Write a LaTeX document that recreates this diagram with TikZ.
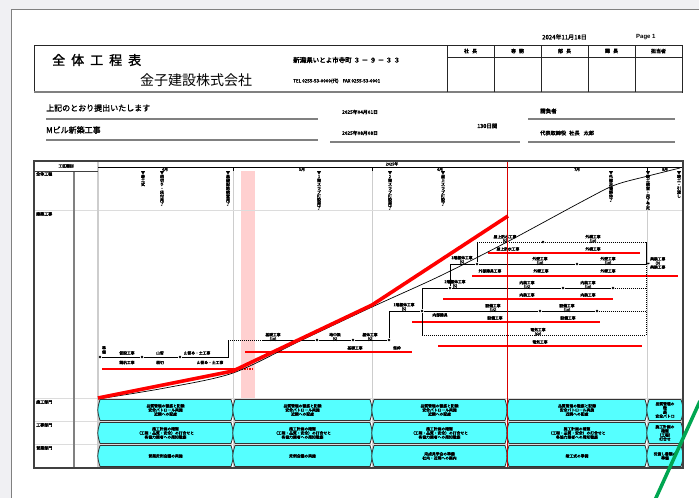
\documentclass[tikz,border=0pt]{standalone}
\usepackage{fontspec}
\setmainfont{Liberation Sans}
\newfontfamily\jp{Noto Sans CJK JP}
\newfontfamily\jpb[FakeBold=1.5]{Noto Sans CJK JP}
\newfontfamily\jpx[FakeBold=3]{Noto Sans CJK JP}
\usetikzlibrary{arrows.meta}
\definecolor{pagebg}{RGB}{240,240,243}
\definecolor{frame}{RGB}{128,128,128}
\definecolor{gridc}{RGB}{205,205,205}
\definecolor{boxcyan}{RGB}{85,255,255}
\definecolor{pinkband}{RGB}{255,208,208}
\definecolor{gr}{RGB}{0,166,81}
\newcommand\cybox[4]{%
  \path[cbox] (#1,#3) -- (#2,#3) .. controls (#2+3,{(#3+#4)/2}) .. (#2,#4) -- (#1,#4) .. controls (#1-3,{(#3+#4)/2}) .. (#1,#3) -- cycle;}
\begin{document}
\begin{tikzpicture}[x=1pt,y=-1pt,
  tt/.style={font=\jpx\fontsize{3.8}{4.1}\selectfont, inner sep=0pt, align=center},
  ms/.style={font=\jpx\fontsize{4}{3.9}\selectfont, inner sep=0pt, align=center, anchor=north},
  bt/.style={font=\jpx\fontsize{3.8}{4.1}\selectfont, inner sep=0pt, align=center},
  rl/.style={font=\jpx\fontsize{4}{4.2}\selectfont, inner sep=0pt, anchor=west},
  hd/.style={font=\jpx\fontsize{5}{6}\selectfont, inner sep=0pt},
  ev/.style={circle, fill=black, inner sep=0pt, minimum size=2.8pt},
  act/.style={draw=black, line width=0.75pt},
  dum/.style={draw=black, line width=0.65pt, dash pattern=on 1pt off 1pt},
  rbar/.style={draw=red, line width=2.6pt},
  cbox/.style={fill=boxcyan, draw=black!80, line width=0.8pt}]
\useasboundingbox (0,0) rectangle (699,498);
% page
\fill[pagebg] (0,0) rectangle (699,498);
\filldraw[fill=white, draw=frame, line width=1pt] (11,9) rectangle (720,520);
% ===== header =====
\node[font=\jpb\fontsize{6}{7}\selectfont, anchor=west, inner sep=0] (date) at (542,37) {2024年11月18日};
\node[font=\bfseries\fontsize{6}{7}\selectfont, anchor=west, inner sep=0] (page) at (636,37) {Page 1};
\draw[black!85, line width=0.9pt] (34,45) rectangle (682,92);
\draw[frame, line width=1.6pt] (34,92) -- (682,92);
\draw[black!85, line width=0.9pt] (447,45) -- (447,92);
\foreach \xx in {494,541,588,635} \draw[black!85, line width=0.9pt] (\xx,45) -- (\xx,92);
\draw[black!85, line width=0.9pt] (447,57) -- (682,57);
\node[hd] (h1) at (470.5,51) {社\hspace{3pt}長};
\node[hd] (h2) at (517.5,51) {専\hspace{3pt}務};
\node[hd] (h3) at (564.5,51) {部\hspace{3pt}長};
\node[hd] (h4) at (611.5,51) {課\hspace{3pt}長};
\node[hd] (h5) at (658.5,51) {担当者};
\node[font=\jpb\fontsize{13}{14}\selectfont, anchor=west, inner sep=0] (title) at (52,60) {全\hspace{6pt}体\hspace{6pt}工\hspace{6pt}程\hspace{6pt}表};
\node[font=\jp\fontsize{14}{15}\selectfont, anchor=west, inner sep=0] (comp) at (140,80) {金子建設株式会社};
\node[font=\jpx\fontsize{6.5}{7}\selectfont, anchor=west, inner sep=0] (addr) at (293,60) {新潟県いとよ市寺町\hspace{2pt}３\hspace{1.5pt}－\hspace{1.5pt}９\hspace{1.5pt}－\hspace{1.5pt}３\hspace{1.5pt}３};
\node[font=\jpx\fontsize{4.6}{5}\selectfont, anchor=west, inner sep=0] (tel) at (293,81) {TEL 0255-53-0000(代)\hspace{4pt}FAX 0255-53-0001};
% ===== second section =====
\node[font=\jpb\fontsize{8}{9}\selectfont, anchor=west, inner sep=0] (s1) at (46,108) {上記のとおり提出いたします};
\node[font=\jpb\fontsize{8}{9}\selectfont, anchor=west, inner sep=0] (s2) at (46,130) {Mビル新築工事};
\node[font=\jpx\fontsize{4.8}{5}\selectfont, anchor=west, inner sep=0] (d1) at (342,112) {2025年04月01日};
\node[font=\jpx\fontsize{4.8}{5}\selectfont, anchor=west, inner sep=0] (d2) at (342,133) {2025年08月08日};
\node[font=\jpx\fontsize{5.5}{6}\selectfont, anchor=west, inner sep=0] (days) at (477,126) {130日間};
\node[font=\jpx\fontsize{5.5}{6}\selectfont, anchor=west, inner sep=0] (uk) at (540,111) {請負者};
\node[font=\jpx\fontsize{5.2}{6}\selectfont, anchor=west, inner sep=0] (rep) at (540,133) {代表取締役\hspace{3pt}社長\hspace{4pt}太郎};
\draw[frame, line width=1.3pt] (46,119) -- (318,119);
\draw[frame, line width=1.3pt] (46,140) -- (318,140);
\draw[frame, line width=1.3pt] (330,142) -- (520,142);
\draw[frame, line width=1.3pt] (528,119) -- (675,119);
\draw[frame, line width=1.3pt] (528,142) -- (675,142);
% ===== chart frame =====
\fill[pinkband] (241,171) rectangle (255,398);
\foreach \xx in {233,372,647} \draw[gridc, line width=0.6pt] (\xx,167) -- (\xx,468);
\foreach \yy in {210,398,421,444} \draw[gridc!70, line width=0.5pt] (34,\yy) -- (683,\yy);
\draw[gridc, line width=1.4pt] (98,161) -- (98,468);
\draw[frame, line width=1.3pt] (74,171) -- (74,468);
\draw[black!75, line width=0.6pt] (34,171) -- (98,171);
\draw[black, line width=0.9pt] (98,167) -- (683,167);
\foreach \xx in {233,372,647} \draw[black, line width=0.5pt] (\xx,167) -- (\xx,171);
\node[tt] (kk) at (66,166) {工区種別};
\node[tt] (mo4) at (165,169.5) {4月};
\node[tt] (mo5) at (302,169.5) {5月};
\node[tt] (yr) at (392,164) {2025年};
\node[tt] (mo6) at (440,169.5) {6月};
\node[tt] (mo7) at (577,169.5) {7月};
\node[tt] (mo8) at (665,169.5) {8月};
\node[rl] (r1) at (36,174) {全体工程};
\node[rl] (r2) at (36,214) {建築工事};
\node[rl] (r3) at (36,402) {施工部門};
\node[rl] (r4) at (36,425) {工事部門};
\node[rl] (r5) at (36,448) {営業部門};
% ===== milestones =====
\node[ms] (m1) at (143,171) {▼\\着\\工\\式};
\node[ms] (m2) at (162,171) {▼\\根\\切\\り\\・\\床\\付\\完\\了};
\node[ms] (m3) at (228,171) {▼\\基\\礎\\配\\筋\\検\\査\\完\\了};
\node[ms] (m4) at (319,171) {▼\\1\\階\\ス\\ラ\\ブ\\打\\設\\完\\了};
\node[ms] (m5) at (390,171) {▼\\2\\階\\ス\\ラ\\ブ\\打\\設\\完\\了};
\node[ms] (m6) at (443,171) {▼\\屋\\上\\ス\\ラ\\ブ\\打\\設\\了};
\node[ms] (m7) at (611,171) {▼\\外\\部\\足\\場\\解\\体\\了};
\node[ms] (m8) at (648,171) {▼\\竣\\工\\検\\査\\・\\完\\了\\予\\定};
\node[ms] (m9) at (679,171) {▼\\竣\\工\\・\\引\\渡\\し};
% ===== red bars =====
\draw[rbar] (102,369) -- (235,369);
\draw[red, line width=2pt, dash pattern=on 1.5pt off 1pt] (239,369) -- (253,369);
\draw[rbar] (245,352) -- (412,352);
\draw[rbar] (438,346) -- (642,346);
\draw[rbar] (412,322) -- (600,322);
\draw[rbar] (443,299) -- (613,299);
\draw[rbar] (472,276) -- (678,276);
\draw[rbar] (488,253) -- (640,253);
% ===== network =====
\node[ev] (a0) at (100,357) {};
\node[ev] (a1) at (142,357) {};
\node[ev] (a2) at (180,357) {};
\coordinate (a3) at (228,357);
\coordinate (b0) at (228,340);
\coordinate (b1) at (262,340);
\node[ev] (b2) at (317,340) {};
\node[ev] (b3) at (353,340) {};
\node[ev] (b4) at (389,340) {};
\coordinate (c0) at (389,311);
\node[ev] (c1) at (422,311) {};
\node[ev] (c2) at (540,311) {};
\node[ev] (c3) at (597,311) {};
\coordinate (c4) at (646,311);
\coordinate (d0) at (422,288);
\node[ev] (d1) at (450,288) {};
\node[ev] (d2) at (563,288) {};
\node[ev] (d3) at (613,288) {};
\coordinate (d4) at (646,288);
\coordinate (e0) at (422,335);
\coordinate (e1) at (646,335);
\coordinate (f0) at (450,264);
\node[ev] (f1) at (477,264) {};
\node[ev] (f2) at (577,264) {};
\coordinate (f3) at (646,264);
\coordinate (h0) at (477,242);
\node[ev] (h1) at (543,242) {};
\coordinate (h2) at (646,242);
\node[tt, anchor=west] (g) at (650,263) {美装工事\\(3)\\美装工事};
\draw[act] (a0) -- (a1) -- (a2) -- (a3) -- (b0);
\draw[dum] (b0) -- (b1);
\draw[act] (b1) -- (b2) -- (b3) -- (b4) -- (c0) -- (c1) -- (c2) -- (c3);
\draw[dum] (c3) -- (c4);
\draw[act] (c1) -- (d0) -- (d1) -- (d2) -- (d3);
\draw[dum] (d3) -- (d4);
\draw[act] (c1) -- (e0);
\draw[dum] (e0) -- (e1);
\draw[act] (d1) -- (f0) -- (f1) -- (f2) -- (f3);
\draw[act] (f1) -- (h0);
\draw[dum] (h0) -- (h1) -- (h2);
\draw[act] (h2) -- (f3);
\draw[dum] (f3) -- (d4) -- (c4) -- (e1);
\draw[act, -{Stealth[length=2.5pt,width=2pt]}] (f3) -- (g.west);
% network labels
\node[tt] (la0) at (104,350) {準\\備};
\node[tt] (la1) at (127,353) {仮設工事};
\node[tt] (la2) at (127,362.5) {鋼杭工事};
\node[tt] (la3) at (160,353) {山留};
\node[tt] (la4) at (160,362.5) {根切};
\node[tt] (la5) at (197,353) {山留め・土工事};
\node[tt] (la6) at (210,362.5) {山留め・土工事};
\node[tt] (lb1) at (273,337) {基礎工事\\(10)};
\node[tt] (lb2) at (335,337) {地中梁\\(5)};
\node[tt] (lb3) at (370,337) {躯体工事\\(5)};
\node[tt] (lb4) at (355,348) {基礎工事};
\node[tt] (lb5) at (397,348) {型枠};
\node[tt] (lc1) at (404,307) {1階躯体工事\\(5)};
\node[tt] (lc2) at (440,315) {内部建具};
\node[tt] (lc3) at (493,308) {設備工事\\(15)};
\node[tt] (lc4) at (495,318) {設備工事};
\node[tt] (lc5) at (567,308) {設備工事\\(10)};
\node[tt] (lc6) at (568,318) {設備工事};
\node[tt] (ld1) at (455,284) {2階躯体工事\\(5)};
\node[tt] (ld2) at (527,285) {内装工事\\(15)};
\node[tt] (ld3) at (527,295) {内装工事};
\node[tt] (ld4) at (588,285) {内装工事\\(10)};
\node[tt] (ld5) at (588,295) {内装工事};
\node[tt] (lf1) at (462,260) {3階躯体工事\\(5)};
\node[tt] (lf2) at (490,271) {外部建具工事};
\node[tt] (lf3) at (540,261) {外壁工事\\(10)};
\node[tt] (lf4) at (541,271) {外壁工事};
\node[tt] (lf5) at (608,261) {外壁工事\\(10)};
\node[tt] (lf6) at (608,271) {外壁工事};
\node[tt] (lh1) at (505,239) {屋上防水工事\\(5)};
\node[tt] (lh2) at (508,249) {屋上防水工事};
\node[tt] (lh3) at (593,239) {外構工事\\(10)};
\node[tt] (lh4) at (593,249) {外構工事};
\node[tt] (le1) at (538,332) {電気工事\\(60)};
\node[tt] (le2) at (540,342) {電気工事};
% ===== curves =====
\draw[black, line width=0.7pt] plot[smooth] coordinates {(98,399) (165,388) (233,373) (300,341) (372,307) (440,276) (507,242) (583,201) (615,185) (648,176) (680,168)};
\draw[red, line width=3.6pt] (98,398) -- (233,371) -- (372,305) -- (508,216);
% ===== cyan boxes =====
\cybox{100}{231}{399.5}{420.5}
\cybox{235}{370}{399.5}{420.5}
\cybox{374}{505}{399.5}{420.5}
\cybox{509}{645}{399.5}{420.5}
\cybox{649}{681}{399.5}{420.5}
\cybox{100}{231}{422.5}{443.5}
\cybox{235}{370}{422.5}{443.5}
\cybox{374}{505}{422.5}{443.5}
\cybox{509}{645}{422.5}{443.5}
\cybox{649}{681}{422.5}{443.5}
\cybox{100}{231}{445.5}{466.5}
\cybox{235}{370}{445.5}{466.5}
\cybox{374}{505}{445.5}{466.5}
\cybox{509}{645}{445.5}{466.5}
\cybox{649}{681}{445.5}{466.5}
\foreach \cx/\nm in {165.5/p1,302.5/p2,439.5/p3,577/p4}{
  \node[bt] (\nm a) at (\cx,410) {品質管理の徹底と記録\\安全パトロール実施\\近隣への配慮};
  \node[bt] (\nm b) at (\cx,433) {施工計画の確認\\（工程・品質・安全）の打合せと\\各協力業者への周知徹底};
}
\node[bt] (p5a) at (665,410) {品質管理の\\徹\\底\\安全パトロ};
\node[bt] (p5b) at (665,433) {施工計画の\\確認\\（工程）\\打合せ};
\node[bt] (p1c) at (165.5,456) {営業定例会議の実施};
\node[bt] (p2c) at (302.5,456) {定例会議の実施};
\node[bt] (p3c) at (439.5,456) {完成見学会の準備\\社内・近隣への案内};
\node[bt] (p4c) at (577,456) {竣工式の準備};
\node[bt] (p5c) at (665,456) {引渡し書類の\\準備};
% red today line & outer frame
\draw[red!85!black, line width=1pt] (507,161) -- (507,468);
\draw[black!75, line width=1.4pt] (34,161) rectangle (683,468);
% green stroke
\draw[gr, line width=3.5pt] (655,500) -- (700,401);
\end{tikzpicture}
\end{document}
